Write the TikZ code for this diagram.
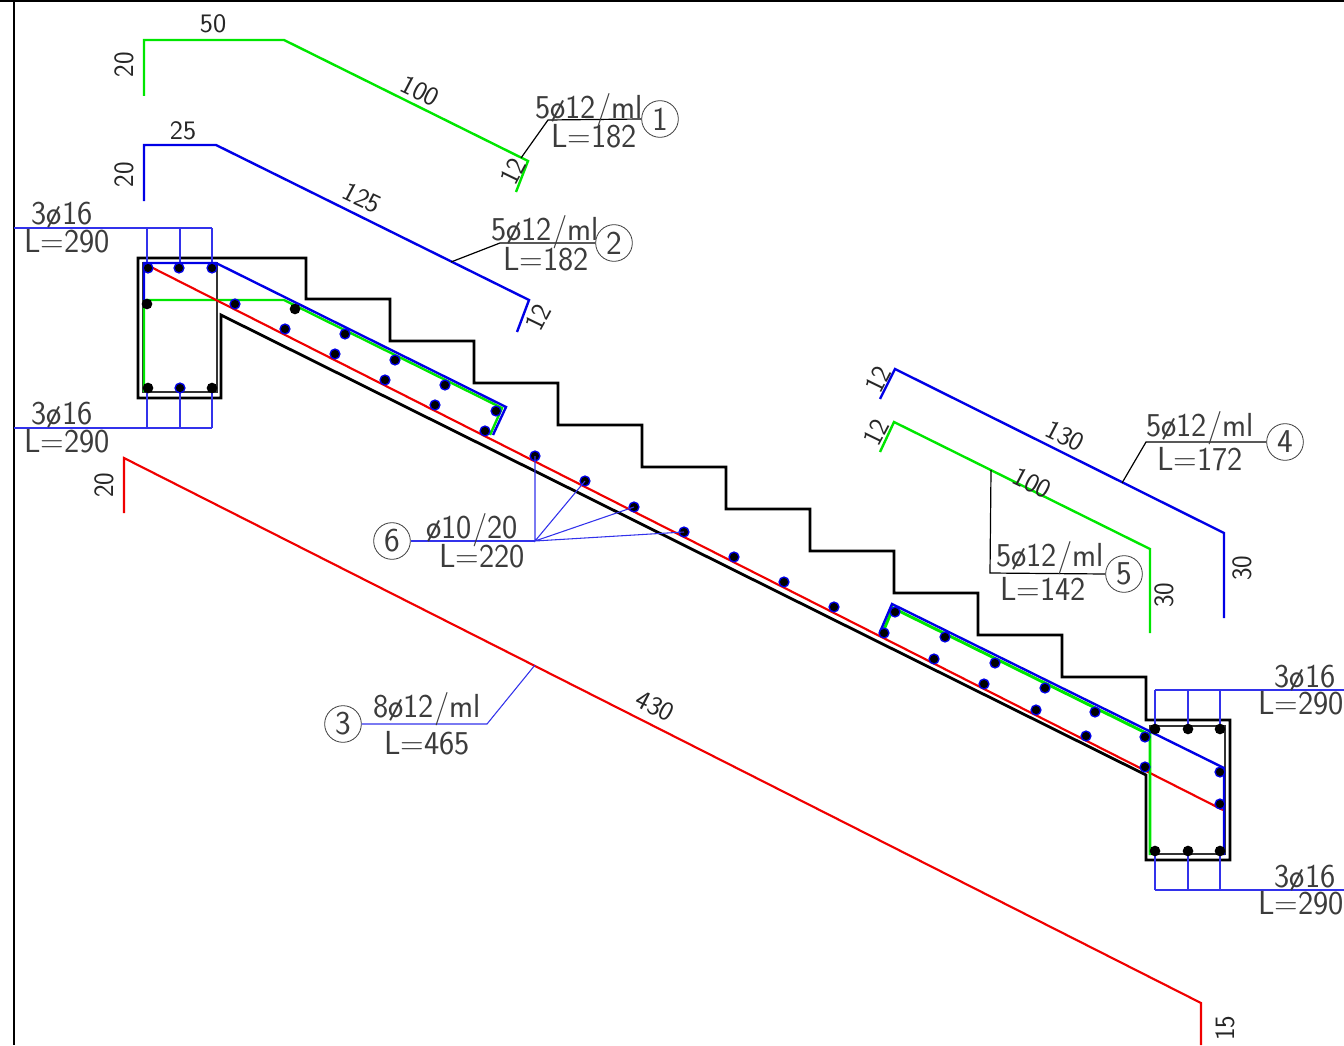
\documentclass[tikz,border=0pt]{standalone}
\usepackage{fontspec}
\definecolor{cadblue}{RGB}{0,0,230}
\definecolor{cadleader}{RGB}{50,50,235}
\definecolor{cadgreen}{RGB}{0,230,0}
\definecolor{cadred}{RGB}{240,0,0}
\definecolor{cadtext}{RGB}{60,60,60}
\tikzset{
  bigtxt/.style={font=\fontsize{25}{25}\selectfont\sffamily,text=cadtext,inner sep=0pt,xscale=.97},
  smalltxt/.style={font=\fontsize{20}{20}\selectfont\sffamily,text=black!85,inner sep=0pt,xscale=1.05},
  markcirc/.style={circle,draw=cadtext,line width=.6pt,minimum size=27.5pt,inner sep=0pt,font=\fontsize{25}{25}\selectfont\sffamily,text=cadtext},
  outline/.style={black,line width=2.1pt,line join=miter},
  stirrup/.style={black!80,line width=1.5pt},
  bluebar/.style={cadblue,line width=1.8pt,line join=miter},
  greenbar/.style={cadgreen,line width=1.8pt,line join=miter},
  redbar/.style={cadred,line width=1.6pt,line join=miter},
  leadblue/.style={cadleader,line width=.8pt},
  leadblack/.style={black,line width=.9pt},
  dotb/.style={circle,fill=black,draw=cadblue,line width=1pt,minimum size=7.4pt,inner sep=0pt},
  dotk/.style={circle,fill=black,minimum size=8pt,inner sep=0pt},
}
\begin{document}
\begin{tikzpicture}[x=.75pt,y=-.75pt]
\useasboundingbox (0,0) rectangle (1344,1045);
% frame
\draw[black,line width=1.7pt] (0,0.5) -- (1344,0.5);
\draw[black,line width=1.7pt] (14,0) -- (14,1045);
% concrete outline
\draw[outline] (138,258) -- (306,258) -- (306,299) -- (390,299) -- (390,341) -- (474,341) -- (474,383) -- (558,383) -- (558,425) -- (642,425) -- (642,467) -- (726,467) -- (726,509) -- (810,509) -- (810,551) -- (894,551) -- (894,593) -- (978,593) -- (978,635) -- (1062,635) -- (1062,677) -- (1146,677) -- (1146,720) -- (1230,720) -- (1230,860) -- (1146,860) -- (1146,775) -- (221,315) -- (221,398) -- (138,398) -- cycle;
% stirrups
\draw[stirrup] (143,263) rectangle (217,392);
\draw[stirrup] (1150,726) rectangle (1225,854);
% dimension leaders (blue)
\draw[leadblue] (14,228) -- (212,228) (147,228) -- (147,268) (180,228) -- (180,268) (212,228) -- (212,268);
\draw[leadblue] (14,428) -- (212,428) (147,428) -- (147,388) (180,428) -- (180,388) (212,428) -- (212,388);
\draw[leadblue] (1155,690) -- (1344,690) (1155,690) -- (1155,729) (1188,690) -- (1188,729) (1220,690) -- (1220,729);
\draw[leadblue] (1155,890) -- (1344,890) (1155,890) -- (1155,851) (1188,890) -- (1188,851) (1220,890) -- (1220,851);
% main bars in section
\draw[greenbar] (144,392) -- (144,300) -- (284,300) -- (502,408) -- (490,435);
\draw[bluebar] (144,300) -- (144,263) -- (216,263) -- (506,407) -- (493,435);
\draw[redbar] (147,265) -- (1223,810);
\draw[greenbar,line width=2.2pt] (883,632) -- (893,608) -- (1150,735) -- (1150,855);
\draw[bluebar] (880,632) -- (892,604) -- (1224,768) -- (1224,855);
% free bars
\draw[greenbar] (144,96) -- (144,40) -- (284,40) -- (528,161) -- (516,192);
\draw[bluebar] (144,201) -- (144,145) -- (216,145) -- (529,300) -- (517,332);
\draw[redbar] (124,513) -- (124,458) -- (1201,1003) -- (1201,1045);
\draw[bluebar] (880,399) -- (895,369) -- (1224,533) -- (1224,618);
\draw[greenbar] (880,452) -- (894,422) -- (1150,549) -- (1150,633);
% dots
\foreach \p in {(148,268),(179,268),(212,268),(180,388),(235,304),(285,329),(345,334),(335,354),(395,360),(385,380),(445,385),(435,405),(496,411),(485,431),(535,456),(585,481),(634,507),(684,532),(734,557),(784,582),(834,607),(895,612),(884,633),(945,637),(934,659),(995,663),(984,684),(1045,688),(1036,710),(1095,712),(1086,736),(1145,737),(1145,767),(1220,772),(1220,804)}
  \node[dotb] at \p {};
\foreach \p in {(147,304),(148,388),(212,388),(295,309),(1155,729),(1188,729),(1220,729),(1155,851),(1188,851),(1220,851)}
  \node[dotk] at \p {};
% mark circles
\node[markcirc] (m1) at (660,119) {1};
\node[markcirc] (m2) at (614,243) {2};
\node[markcirc] (m3) at (343,724) {3};
\node[markcirc] (m4) at (1285,442) {4};
\node[markcirc] (m5) at (1124,574) {5};
\node[markcirc] (m6) at (392,541) {6};
% leaders to marks
\coordinate (a1) at (521,158); \coordinate (b1) at (548,120);
\draw[leadblack] (a1) -- (b1) -- (m1.west);
\coordinate (a2) at (451,262); \coordinate (b2) at (500,243);
\draw[leadblack] (a2) -- (b2) -- (m2.west);
\coordinate (a3) at (535,665); \coordinate (b3) at (487,724);
\draw[leadblue] (a3) -- (b3) -- (m3.east);
\coordinate (a4) at (1122,483); \coordinate (b4) at (1146,442);
\draw[leadblack] (a4) -- (b4) -- (m4.west);
\coordinate (a5) at (991,470); \coordinate (b5) at (990,573);
\draw[leadblack] (a5) -- (b5) -- (m5.west);
\coordinate (h6) at (535,541);
\draw[leadblue] (m6.east) -- (h6);
\coordinate (t1) at (535,456); \coordinate (t2) at (585,481); \coordinate (t3) at (634,507); \coordinate (t4) at (684,532);
\draw[leadblue] (t1) -- (h6) -- (t2) (h6) -- (t3) (h6) -- (t4);
% big text
\node[bigtxt] (t3a) at (62,215) {3ø16};
\node[bigtxt] (t3b) at (67,241) {L=290};
\node[bigtxt] (t3c) at (62,415) {3ø16};
\node[bigtxt] (t3d) at (67,441) {L=290};
\node[bigtxt] (t3e) at (1305,678) {3ø16};
\node[bigtxt] (t3f) at (1301,703) {L=290};
\node[bigtxt] (t3g) at (1305,878) {3ø16};
\node[bigtxt] (t3h) at (1301,903) {L=290};
\node[bigtxt] (l1a) at (589,110) {5ø12/ml};
\node[bigtxt] (l1b) at (594,136) {L=182};
\node[bigtxt] (l2a) at (545,232) {5ø12/ml};
\node[bigtxt] (l2b) at (546,259) {L=182};
\node[bigtxt] (l3a) at (427,709) {8ø12/ml};
\node[bigtxt] (l3b) at (427,743) {L=465};
\node[bigtxt] (l4a) at (1200,428) {5ø12/ml};
\node[bigtxt] (l4b) at (1200,459) {L=172};
\node[bigtxt] (l5a) at (1050,558) {5ø12/ml};
\node[bigtxt] (l5b) at (1043,589) {L=142};
\node[bigtxt] (l6a) at (472,530) {ø10/20};
\node[bigtxt] (l6b) at (482,556) {L=220};
% small dimension text
\node[smalltxt,rotate=90] (d1) at (124,65) {20};
\node[smalltxt] (d2) at (213,24) {50};
\node[smalltxt,rotate=-26.4] (d3) at (420,91) {100};
\node[smalltxt,rotate=63] (d4) at (513,171) {12};
\node[smalltxt,rotate=90] (d5) at (124,175) {20};
\node[smalltxt] (d6) at (183,131) {25};
\node[smalltxt,rotate=-26.4] (d7) at (362,198) {125};
\node[smalltxt,rotate=63] (d8) at (538,317) {12};
\node[smalltxt,rotate=90] (d9) at (104,485) {20};
\node[smalltxt,rotate=-26.4] (d10) at (655,706) {430};
\node[smalltxt,rotate=90] (d11) at (1225,1028) {15};
\node[smalltxt,rotate=63] (d12) at (878,379) {12};
\node[smalltxt,rotate=-26.4] (d13) at (1065,436) {130};
\node[smalltxt,rotate=90] (d14) at (1242,568) {30};
\node[smalltxt,rotate=63] (d15) at (876,432) {12};
\node[smalltxt,rotate=-26.4] (d16) at (1032,483) {100};
\node[smalltxt,rotate=90] (d17) at (1164,595) {30};
\end{tikzpicture}
\end{document}
